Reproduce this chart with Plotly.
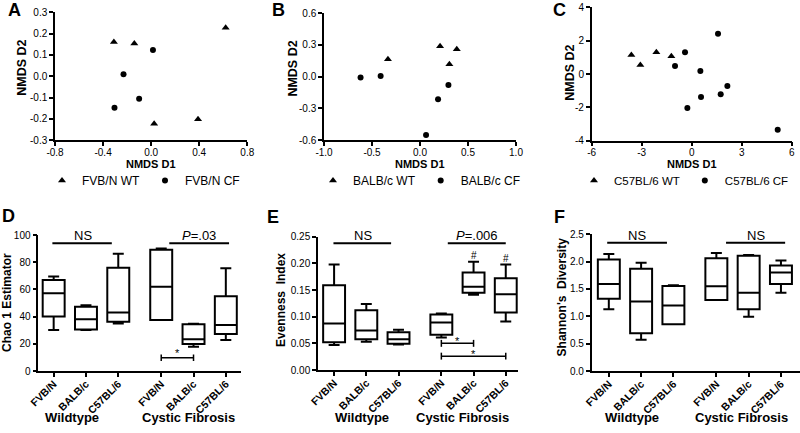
import plotly.graph_objects as go

W, H = 800, 433
FONT = "Arial, Liberation Sans, Helvetica, sans-serif"

# ---------------- data ----------------
# Panel A (FVB/N NMDS)
a_wt_x = [-0.31, -0.14, 0.62, 0.39, 0.025]
a_wt_y = [0.161, 0.154, 0.227, -0.201, -0.222]
a_cf_x = [0.015, -0.23, -0.10, -0.305]
a_cf_y = [0.123, 0.010, -0.105, -0.148]
# Panel B (BALB/c NMDS)
b_wt_x = [-0.334, 0.209, 0.383, 0.306]
b_wt_y = [0.164, 0.287, 0.259, 0.117]
b_cf_x = [-0.619, -0.41, 0.296, 0.188, 0.063]
b_cf_y = [-0.009, 0.006, -0.079, -0.215, -0.553]
# Panel C (C57BL/6 NMDS)
c_wt_x = [-3.62, -3.08, -2.12, -1.22]
c_wt_y = [1.14, 0.54, 1.30, 1.06]
c_cf_x = [-0.40, -1.00, 1.58, 0.52, 2.14, 1.74, 0.56, -0.26, 5.16]
c_cf_y = [1.30, 0.48, 2.42, 0.18, -0.72, -1.22, -1.38, -2.04, -3.34]

strains = ["FVB/N", "BALB/c", "C57BL/6", "FVB/N", "BALB/c", "C57BL/6"]
box_pos = [0, 1, 2, 3.33, 4.33, 5.33]
groups = ["Wildtype", "Cystic Fibrosis"]

# Panel D: Chao 1 estimator
d_lo = [30.1, 30.1, 35.0, 37.5, 17.9, 22.8]
d_q1 = [40.0, 30.6, 36.3, 37.5, 19.9, 27.2]
d_med = [57.1, 38.0, 43.1, 62.0, 23.3, 33.8]
d_q3 = [66.9, 47.3, 76.0, 89.2, 34.3, 54.9]
d_hi = [69.4, 48.3, 86.3, 90.0, 34.8, 75.5]
# Panel E: Evenness index
e_lo = [0.047, 0.053, 0.048, 0.061, 0.141, 0.091]
e_q1 = [0.052, 0.0575, 0.049, 0.066, 0.145, 0.108]
e_med = [0.087, 0.074, 0.0575, 0.089, 0.156, 0.142]
e_q3 = [0.159, 0.112, 0.0706, 0.104, 0.183, 0.172]
e_hi = [0.198, 0.124, 0.0756, 0.106, 0.203, 0.198]
# Panel F: Shannon's diversity
f_lo = [1.13, 0.57, 0.854, 1.30, 0.99, 1.43]
f_q1 = [1.32, 0.69, 0.854, 1.30, 1.13, 1.59]
f_med = [1.59, 1.27, 1.20, 1.55, 1.43, 1.80]
f_q3 = [2.04, 1.87, 1.555, 2.06, 2.11, 1.93]
f_hi = [2.14, 1.98, 1.57, 2.16, 2.12, 2.02]

# tick labels
a_xt = [-0.8, -0.4, 0.0, 0.4, 0.8]; a_xl = ["-0.8", "-0.4", "0.0", "0.4", "0.8"]
a_yt = [-0.3, -0.2, -0.1, 0.0, 0.1, 0.2, 0.3]; a_yl = ["-0.3", "-0.2", "-0.1", "0.0", "0.1", "0.2", "0.3"]
b_xt = [-1.0, -0.5, 0.0, 0.5, 1.0]; b_xl = ["-1.0", "-0.5", "0.0", "0.5", "1.0"]
b_yt = [-0.6, -0.3, 0.0, 0.3, 0.6]; b_yl = ["-0.6", "-0.3", "0.0", "0.3", "0.6"]
c_xt = [-6, -3, 0, 3, 6]; c_xl = ["-6", "-3", "0", "3", "6"]
c_yt = [-4, -2, 0, 2, 4]; c_yl = ["-4", "-2", "0", "2", "4"]
d_yt = [0, 20, 40, 60, 80, 100]; d_yl = ["0", "20", "40", "60", "80", "100"]
e_yt = [0, 0.05, 0.10, 0.15, 0.20, 0.25]; e_yl = ["0.00", "0.05", "0.10", "0.15", "0.20", "0.25"]
f_yt = [0, 0.5, 1.0, 1.5, 2.0, 2.5]; f_yl = ["0.0", "0.5", "1.0", "1.5", "2.0", "2.5"]

# ---------------- helpers ----------------
def fx(p):
    return p / W

def fy(p):
    return 1 - p / H

dom = {
    1: ((55, 247.3), (12.3, 140.3)),
    2: ((324, 516), (13.3, 140)),
    3: ((591.7, 791.7), (7.3, 140.7)),
    4: ((38.3, 241), (235, 371)),
    5: ((318, 518), (236.7, 370)),
    6: ((591.7, 800), (234.3, 371)),
}

fig = go.Figure()

def scat(x, y, name, sym, size, n, leg):
    sfx = "" if n == 1 else str(n)
    fig.add_trace(go.Scatter(
        x=x, y=y, mode="markers", name=name,
        marker=dict(symbol=sym, size=size, color="black"),
        xaxis="x" + sfx, yaxis="y" + sfx, legend=leg, showlegend=True))

scat(a_wt_x, a_wt_y, "FVB/N WT", "triangle-up", 7, 1, "legend")
scat(a_cf_x, a_cf_y, "FVB/N CF", "circle", 6, 1, "legend")
scat(b_wt_x, b_wt_y, "BALB/c WT", "triangle-up", 7, 2, "legend2")
scat(b_cf_x, b_cf_y, "BALB/c CF", "circle", 6, 2, "legend2")
scat(c_wt_x, c_wt_y, "C57BL/6 WT", "triangle-up", 7, 3, "legend3")
scat(c_cf_x, c_cf_y, "C57BL/6 CF", "circle", 6, 3, "legend3")

def boxes(lo, q1, med, q3, hi, n):
    fig.add_trace(go.Box(
        x=box_pos, lowerfence=lo, q1=q1, median=med, q3=q3, upperfence=hi,
        width=0.68, whiskerwidth=0.5, boxpoints=False,
        line=dict(color="black", width=2), fillcolor="white",
        showlegend=False, xaxis="x" + str(n), yaxis="y" + str(n), hoverinfo="skip"))

boxes(d_lo, d_q1, d_med, d_q3, d_hi, 4)
boxes(e_lo, e_q1, e_med, e_q3, e_hi, 5)
boxes(f_lo, f_q1, f_med, f_q3, f_hi, 6)

ax_common = dict(showline=True, linecolor="black", linewidth=1.5, ticks="outside",
                 ticklen=4, tickwidth=1.5, tickcolor="black", showgrid=False,
                 zeroline=False, fixedrange=True, automargin=False,
                 tickfont=dict(size=10, color="black", family=FONT))

layout_axes = {}
ranges = {
    1: ([-0.8, 0.8], [-0.3, 0.3], a_xt, a_xl, a_yt, a_yl),
    2: ([-1.0, 1.0], [-0.6, 0.6], b_xt, b_xl, b_yt, b_yl),
    3: ([-6, 6], [-4, 4], c_xt, c_xl, c_yt, c_yl),
    4: ([-0.476, 5.8], [0, 100], box_pos, strains, d_yt, d_yl),
    5: ([-0.5, 5.71], [0, 0.25], box_pos, strains, e_yt, e_yl),
    6: ([-0.53, 5.92], [0, 2.5], box_pos, strains, f_yt, f_yl),
}
for n, (xr, yr, xt, xl, yt, yl) in ranges.items():
    sfx = "" if n == 1 else str(n)
    (x0, x1), (y0, y1) = dom[n]
    xa = dict(ax_common, domain=[fx(x0), min(fx(x1), 1.0)], range=xr, anchor="y" + sfx,
              tickmode="array", tickvals=xt, ticktext=xl)
    if n >= 4:
        xa["tickangle"] = -45
        xa["ticklabelstandoff"] = -3
        xa["tickfont"] = dict(size=10.5, color="black", family=FONT, weight="bold")
    else:
        xa["ticklabelstandoff"] = -2
    ya = dict(ax_common, domain=[fy(y1), fy(y0)], range=yr, anchor="x" + sfx,
              tickmode="array", tickvals=yt, ticktext=yl)
    layout_axes["xaxis" + sfx] = xa
    layout_axes["yaxis" + sfx] = ya

ann = []
def txt(x, y, s, size, bold=False, angle=0):
    ann.append(dict(x=x, y=y, xref="paper", yref="paper", text=s, showarrow=False,
                    textangle=angle, xanchor="center", yanchor="middle",
                    font=dict(size=size, color="black", family=FONT,
                              weight="bold" if bold else "normal")))

# panel letters
for letter, px_, py_ in [("A", 14, 10), ("B", 278, 10), ("C", 559, 10),
                         ("D", 8, 216), ("E", 273, 217), ("F", 559, 217)]:
    txt(fx(px_), fy(py_), letter, 18, bold=True)

# axis titles
for px_, py_ in [(21.7, 68), (293.3, 68.3), (569.2, 72.5)]:
    txt(fx(px_), fy(py_), "NMDS D2", 12.5, bold=True, angle=-90)
for px_ in [151, 420, 691.7]:
    txt(fx(px_), fy(164), "NMDS D1", 11, bold=True)
txt(fx(7), fy(303), "Chao 1 Estimator", 12, bold=True, angle=-90)
txt(fx(281), fy(300), "Evenness\u00a0 Index", 12, bold=True, angle=-90)
txt(fx(561.7), fy(296.7), "Shannon's\u00a0 Diversity", 12, bold=True, angle=-90)

# group labels
for px_, s in [(72, groups[0]), (188, groups[1]), (362, groups[0]), (462, groups[1]),
               (632, groups[0]), (741, groups[1])]:
    txt(fx(px_), fy(417), s, 13, bold=True)

shapes = []
def seg(x0, y0, x1, y1, n, w=2):
    shapes.append(dict(type="line", x0=x0, y0=y0, x1=x1, y1=y1,
                       xref="x" + str(n), yref="y" + str(n),
                       line=dict(color="black", width=w)))

# NS / P lines (data coords) with labels placed just above them
sig_lines = [
    (4, -0.04, 1.80, 93.9, "NS", 83), (4, 3.58, 5.43, 93.9, "<i>P</i>=.03", 199),
    (5, -0.02, 1.77, 0.2376, "NS", 362.5), (5, 3.53, 5.33, 0.2376, "<i>P</i>=.006", 477),
    (6, -0.05, 1.80, 2.346, "NS", 637), (6, 3.63, 5.46, 2.346, "NS", 755.5),
]
for n, xa_, xb_, yv, lab, lx in sig_lines:
    seg(xa_, yv, xb_, yv, n, 2)
    txt(fx(lx), fy(235), lab, 13)

# pairwise brackets
brackets = [(4, box_pos[3], box_pos[4], 9.8, 2.4, 13.0),
            (5, box_pos[3], box_pos[4], 0.050, 0.0065, 0.054),
            (5, box_pos[3], box_pos[5], 0.026, 0.0065, 0.030)]
for n, xa_, xb_, yv, d, ys in brackets:
    seg(xa_, yv, xb_, yv, n, 1.5)
    seg(xa_, yv - d, xa_, yv + d, n, 1.5)
    seg(xb_, yv - d, xb_, yv + d, n, 1.5)
    ann.append(dict(x=(xa_ + xb_) / 2, y=ys, xref="x" + str(n), yref="y" + str(n),
                    text="*", showarrow=False, xanchor="center", yanchor="middle",
                    font=dict(size=11, color="#000000", family=FONT)))
for xv, yv in [(box_pos[4], 0.214), (box_pos[5], 0.209)]:
    ann.append(dict(x=xv, y=yv, xref="x5", yref="y5", text="#", showarrow=False,
                    xanchor="center", yanchor="middle",
                    font=dict(size=10, color="#000000", family=FONT)))

leg_common = dict(orientation="h", yanchor="middle", xanchor="left",
                  bgcolor="rgba(0,0,0,0)", itemwidth=30, borderwidth=0)

fig.update_layout(
    width=W, height=H, autosize=False,
    margin=dict(l=0, r=0, t=0, b=0, pad=0, autoexpand=False),
    paper_bgcolor="white", plot_bgcolor="white",
    font=dict(family=FONT, color="black"),
    showlegend=True,
    legend=dict(leg_common, x=fx(42), y=fy(180.5),
                font=dict(size=12, color="black", family=FONT)),
    legend2=dict(leg_common, x=fx(313), y=fy(180.5),
                 font=dict(size=12, color="black", family=FONT)),
    legend3=dict(leg_common, x=fx(574), y=fy(180.5),
                 font=dict(size=11.5, color="black", family=FONT)),
    annotations=ann, shapes=shapes,
    **layout_axes,
)

fig.write_html(
    "out.html",
    config={"displayModeBar": False, "staticPlot": False},
    post_script="document.body.style.margin='0px';document.body.style.padding='0px';",
)
